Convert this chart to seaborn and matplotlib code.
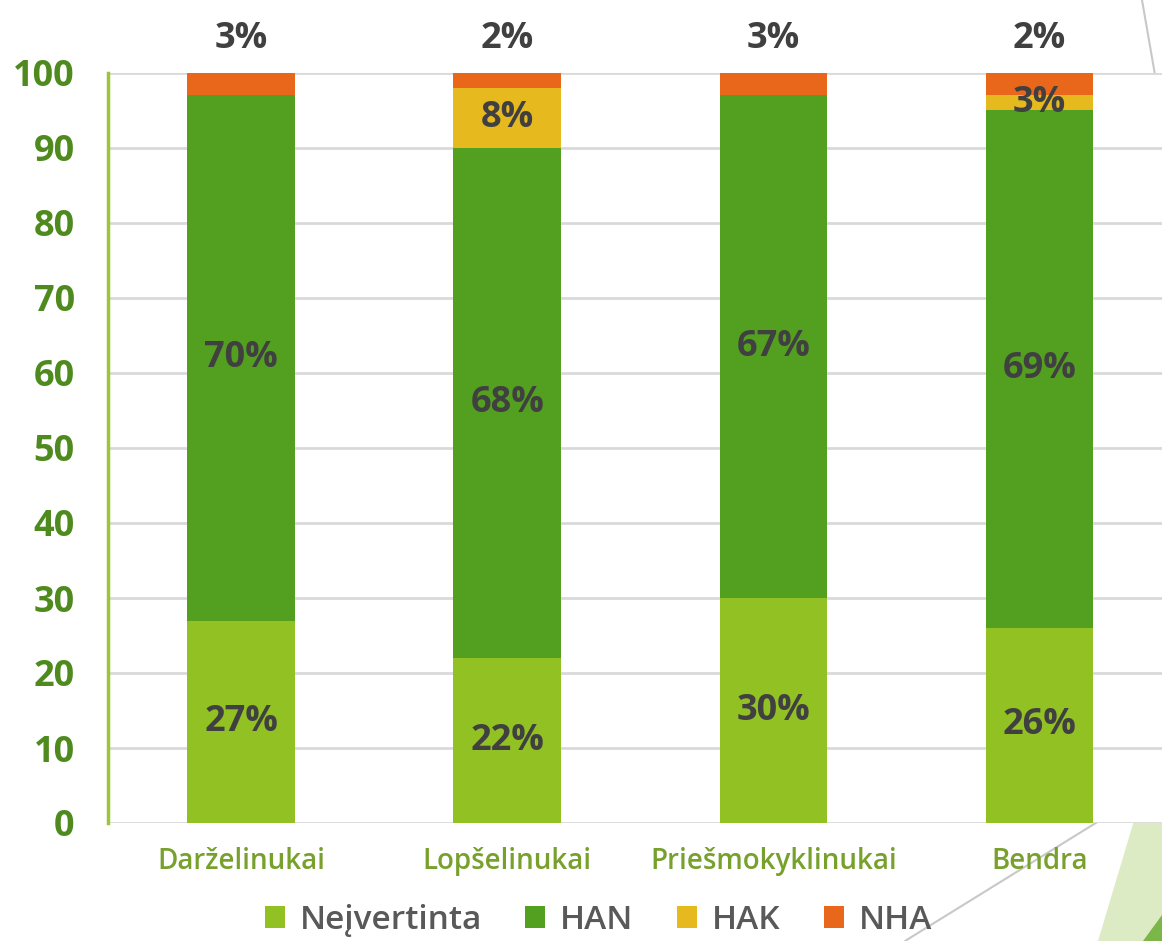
import matplotlib
matplotlib.use('Agg')
import matplotlib.pyplot as plt
from matplotlib.patches import Patch, Polygon
from matplotlib.lines import Line2D
import seaborn as sns
import pandas as pd
import numpy as np

# data
groups = ['Darželinukai', 'Lopšelinukai', 'Priešmokyklinukai', 'Bendra']
neivertinta = [27, 22, 30, 26]
han = [70, 68, 67, 69]
hak = [0, 8, 0, 2.1]
nha = [3, 2, 3, 2.9]
series_names = ['Neįvertinta', 'HAN', 'HAK', 'NHA']
# label texts as printed on the chart
lbl_neiv = ['27%', '22%', '30%', '26%']
lbl_han = ['70%', '68%', '67%', '69%']
lbl_hak = ['', '8%', '', '3%']
lbl_nha = ['3%', '2%', '3%', '2%']

colors = ['#92C123', '#53A021', '#E6B91E', '#E8671A']

sns.set_theme(style='white')
plt.rcParams['font.family'] = ['Open Sans', 'DejaVu Sans']

df = pd.DataFrame({'group': groups, 'Neįvertinta': neivertinta, 'HAN': han,
                   'HAK': hak, 'NHA': nha})
cum = df[series_names].cumsum(axis=1)

W, H = 1162, 941
fig = plt.figure(figsize=(W / 100, H / 100), dpi=100)
ax = fig.add_axes([108 / W, 1 - 823 / H, (W - 108) / W, 750 / H])

# stacked bars: draw the tallest cumulative layer first
for name, col in reversed(list(zip(series_names, colors))):
    sns.barplot(x=df['group'], y=cum[name], color=col, width=0.405,
                saturation=1, ax=ax, zorder=2, linewidth=0, edgecolor='none')

ax.set_ylim(0, 100)
ax.set_xlim(-0.5, 3.46)
ax.set_yticks(range(0, 101, 10))
ax.yaxis.grid(True, color='#D9D9D9', linewidth=2, zorder=0)
ax.set_axisbelow(True)
for s in ['top', 'right', 'bottom']:
    ax.spines[s].set_visible(False)
ax.spines['left'].set_color('#9BC53A')
ax.spines['left'].set_linewidth(2.5)
ax.set_xlabel('')
ax.set_ylabel('')
ax.tick_params(axis='y', length=0, pad=24, labelsize=26, labelcolor='#4E8A1E')
ax.tick_params(axis='x', length=0, pad=17, labelsize=20, labelcolor='#77A12C')
for t in ax.get_yticklabels():
    t.set_fontweight('bold')
for t in ax.get_xticklabels():
    t.set_fontweight('semibold')

lab_kw = dict(ha='center', va='center', fontsize=26, fontweight='bold',
              color='#404040', zorder=5, clip_on=False)
base = np.zeros(len(groups))
for vals, labs in [(neivertinta, lbl_neiv), (han, lbl_han), (hak, lbl_hak)]:
    for i, (v, l) in enumerate(zip(vals, labs)):
        if l:
            ax.text(i, base[i] + v / 2, l, **lab_kw)
    base += np.array(vals)
for i, l in enumerate(lbl_nha):
    ax.text(i, 104.6, l, **lab_kw)

handles = [Patch(facecolor=c, edgecolor='none') for c in colors]
fig.legend(handles, series_names, loc='center', bbox_to_anchor=(0.515, 0.022),
           ncol=4, frameon=False, fontsize=24, labelcolor='#595959',
           prop={'size': 24, 'weight': 'semibold'},
           handlelength=0.6, handleheight=0.6, handletextpad=0.45, columnspacing=1.3)

# slide decoration in the bottom-right / top-right corners
def fp(x, y):
    return (x / W, 1 - y / H)

fig.add_artist(Polygon([fp(1098, 941), fp(1162, 727), fp(1162, 941)], closed=True,
                       transform=fig.transFigure, facecolor='#DDEBC4', edgecolor='none', zorder=0))
fig.add_artist(Polygon([fp(1143, 941), fp(1162, 915), fp(1162, 941)], closed=True,
                       transform=fig.transFigure, facecolor='#7AB648', edgecolor='none', zorder=0))
fig.add_artist(Line2D([905 / W, 1.0], [0.0, 1 - 782 / H], transform=fig.transFigure,
                      color='#C8C8C8', linewidth=1.5, zorder=0))
fig.add_artist(Line2D([1142 / W, 1.0], [1.0, 1 - 115 / H], transform=fig.transFigure,
                      color='#C8C8C8', linewidth=1.5, zorder=0))

fig.savefig('out.png', dpi=100)
